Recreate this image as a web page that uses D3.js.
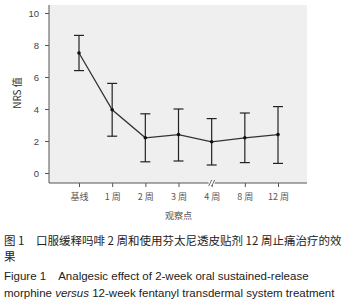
<!DOCTYPE html>
<html>
<head>
<meta charset="utf-8">
<script src="https://cdn.jsdelivr.net/npm/d3@7"></script>
<style>
  body { margin: 0; background: #fff; }
  svg { display: block; }
</style>
</head>
<body>
<svg id="chart" width="342" height="300"></svg>
<script>
/* Data */
const categories = ['基线', '1 周', '2 周', '3 周', '4 周', '8 周', '12 周'];
const means = [7.5, 3.95, 2.2, 2.4, 1.95, 2.2, 2.4];
const upper = [8.6, 5.6, 3.7, 4.0, 3.4, 3.75, 4.15];
const lower = [6.4, 2.3, 0.7, 0.75, 0.5, 0.65, 0.6];
const yTicks = [0, 2, 4, 6, 8, 10];

const svg = d3.select('#chart');
const plot = { left: 49, right: 307, top: 5, bottom: 183 };
const cjk = '"Noto Sans CJK SC", sans-serif';

const x = d3.scalePoint()
    .domain(categories)
    .range([79, 278]);

const y = d3.scaleLinear()
    .domain([0, 10])
    .range([173, 13]);

/* Background */
svg.append('rect')
    .attr('x', plot.left)
    .attr('y', plot.top)
    .attr('width', plot.right - plot.left)
    .attr('height', plot.bottom - plot.top)
    .attr('fill', '#efefef');

/* Axes */
const yAxis = svg.append('g')
    .attr('transform', `translate(${plot.left},0)`)
    .call(d3.axisLeft(y).tickValues(yTicks).tickSize(4).tickPadding(6));
yAxis.select('.domain').attr('d', `M0,${plot.top}V${plot.bottom}`);

const xAxis = svg.append('g')
    .attr('transform', `translate(0,${plot.bottom})`)
    .call(d3.axisBottom(x).tickSize(4).tickPadding(7));
xAxis.select('.domain').attr('d', `M${plot.left},0H${plot.right}`);

svg.selectAll('.domain, .tick line').attr('stroke', '#555');
yAxis.selectAll('.tick text')
    .attr('font-family', 'Arial, "Liberation Sans", sans-serif')
    .attr('font-size', 9.5)
    .attr('fill', '#444');
xAxis.selectAll('.tick text')
    .attr('font-family', cjk)
    .attr('font-size', 9)
    .attr('fill', '#555');

/* Axis break on 4 周 */
const bx = x('4 周');
svg.append('rect')
    .attr('x', bx - 3).attr('y', plot.bottom - 2)
    .attr('width', 6).attr('height', 4)
    .attr('fill', '#fff');
[-1.5, 1.5].forEach(off => {
    svg.append('line')
        .attr('x1', bx + off - 1.5).attr('y1', plot.bottom + 3)
        .attr('x2', bx + off + 1.5).attr('y2', plot.bottom - 3)
        .attr('stroke', '#444').attr('stroke-width', 0.8);
});

/* Axis titles */
svg.append('text')
    .attr('transform', `translate(21,${(y(10) + y(0)) / 2}) rotate(-90)`)
    .attr('text-anchor', 'middle')
    .attr('font-family', cjk)
    .attr('font-size', 10)
    .attr('fill', '#333')
    .text('NRS 值');

svg.append('text')
    .attr('x', (x('基线') + x('12 周')) / 2)
    .attr('y', 219)
    .attr('text-anchor', 'middle')
    .attr('font-family', cjk)
    .attr('font-size', 9)
    .attr('fill', '#555')
    .text('观察点');

/* Error bars */
const bars = svg.append('g').attr('stroke', '#222').attr('stroke-width', 1.2);
categories.forEach((c, i) => {
    const cx = x(c);
    bars.append('line')
        .attr('x1', cx).attr('x2', cx)
        .attr('y1', y(upper[i])).attr('y2', y(lower[i]));
    [upper[i], lower[i]].forEach(v => {
        bars.append('line')
            .attr('x1', cx - 5).attr('x2', cx + 5)
            .attr('y1', y(v)).attr('y2', y(v));
    });
});

/* Mean line */
const line = d3.line()
    .x((d, i) => x(categories[i]))
    .y(d => y(d));

svg.append('path')
    .datum(means)
    .attr('d', line)
    .attr('fill', 'none')
    .attr('stroke', '#333')
    .attr('stroke-width', 1.3);

svg.selectAll('circle.pt')
    .data(means)
    .join('circle')
    .attr('class', 'pt')
    .attr('cx', (d, i) => x(categories[i]))
    .attr('cy', d => y(d))
    .attr('r', 1.8)
    .attr('fill', '#111');

/* Caption */
const caption = [
    { text: '图 1　口服缓释吗啡 2 周和使用芬太尼透皮贴剂 12 周止痛治疗的效', y: 245, cn: true },
    { text: '果', y: 261, cn: true },
    { text: 'Figure 1　Analgesic effect of 2-week oral sustained-release', y: 280, cn: false },
    { text: null, y: 297, cn: false }
];
caption.forEach(c => {
    const t = svg.append('text')
        .attr('x', 4)
        .attr('y', c.y)
        .attr('font-family', c.cn ? cjk : 'Arial, "Liberation Sans", sans-serif')
        .attr('font-size', 11.5)
        .attr('fill', '#222');
    if (c.text) {
        t.text(c.text);
    } else {
        t.append('tspan').text('morphine ');
        t.append('tspan').attr('font-style', 'italic').text('versus');
        t.append('tspan').text(' 12-week fentanyl transdermal system treatment');
    }
});
</script>
</body>
</html>
